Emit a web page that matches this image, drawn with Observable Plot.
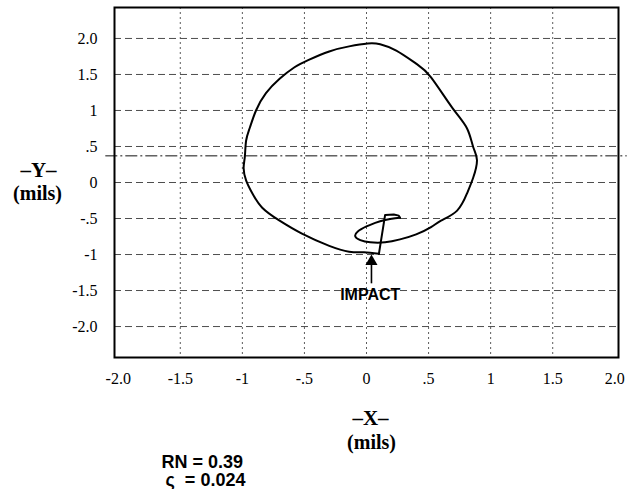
<!DOCTYPE html>
<html>
<head>
<meta charset="utf-8">
<script src="https://cdn.jsdelivr.net/npm/d3@7"></script>
<script src="https://cdn.jsdelivr.net/npm/@observablehq/plot@0.6"></script>
<style>
  html, body { margin: 0; padding: 0; background: white; }
  svg text { white-space: pre; }
  g[aria-label$="tick label"], g[aria-label$="tick label"] text { font-family: "Liberation Serif", "Times New Roman", serif !important; font-size: 16px; font-variant: normal !important; }
</style>
</head>
<body>
<div id="chart"></div>
<script>
// Tick values and labels
const tickValues = [-2, -1.5, -1, -0.5, 0, 0.5, 1, 1.5, 2];
const tickLabels = ["-2.0", "-1.5", "-1", "-.5", "0", ".5", "1", "1.5", "2.0"];
const xGridValues = [-1.5, -1, -0.5, 0, 0.5, 1, 1.5];
const yGridValues = [-2, -1.5, -1, -0.5, 0, 0.5, 1, 1.5, 2];

// Orbit trace (mils): smooth part, from the impact point round the big loop and the small loop
const orbitX = [0.10, -0.02, -0.14, -0.30, -0.52, -0.70, -0.84, -0.92, -0.97, -0.99, -0.98, -0.97, -0.94, -0.89, -0.81, -0.70, -0.58, -0.47, -0.30, -0.14, 0.01, 0.11, 0.24, 0.40, 0.52, 0.69, 0.81, 0.86, 0.89, 0.86, 0.81, 0.73, 0.60, 0.52, 0.40, 0.27, 0.15, 0.03, -0.05, -0.09, -0.07, 0.00, 0.07, 0.15, 0.23, 0.27];
const orbitY = [-0.99, -0.97, -0.96, -0.88, -0.71, -0.53, -0.35, -0.15, 0.03, 0.20, 0.36, 0.58, 0.76, 1.00, 1.24, 1.44, 1.60, 1.70, 1.82, 1.89, 1.93, 1.92, 1.83, 1.65, 1.46, 1.04, 0.75, 0.49, 0.31, 0.07, -0.15, -0.39, -0.53, -0.62, -0.72, -0.79, -0.83, -0.83, -0.80, -0.75, -0.68, -0.61, -0.56, -0.52, -0.495, -0.49];
// Hook and straight drop back to the impact point
const dropX = [0.27, 0.26, 0.22, 0.15, 0.10];
const dropY = [-0.49, -0.46, -0.445, -0.45, -0.99];

// Reference (dash-dot) centre line
const refLineY = [0.37];
const refLineExtent = [-2.1, 2.1];

// Impact annotation
const impactLabel = ["IMPACT"];
const impactArrow = [{x: 0.04, yFrom: -1.40, yTo: -1.04}];
const impactText = [{x: 0.03, y: -1.56}];

// Notes
const noteLines = ["RN = 0.39", "ς  = 0.024"];

const orbit = orbitX.map((x, i) => ({x, y: orbitY[i]}));
const drop = dropX.map((x, i) => ({x, y: dropY[i]}));
const fmt = d => tickLabels[tickValues.indexOf(d)];
const serif = "Liberation Serif, Times New Roman, serif";
const sans = "Liberation Sans, Arial, sans-serif";

const chart = Plot.plot({
  width: 629,
  height: 489,
  marginTop: 7,
  marginRight: 11,
  marginBottom: 132,
  marginLeft: 114,
  style: {fontFamily: serif, fontSize: "16px", background: "white", color: "black", overflow: "visible"},
  x: {domain: [-2.03, 2.03]},
  y: {domain: [-2.43, 2.43]},
  marks: [
    Plot.ruleY(yGridValues, {stroke: "#3a3a3a", strokeWidth: 0.9, strokeDasharray: "7,4"}),
    Plot.ruleX(xGridValues, {stroke: "#4a4a4a", strokeWidth: 0.9, strokeDasharray: "2,3"}),
    Plot.ruleY(refLineY, {x1: refLineExtent[0], x2: refLineExtent[1], stroke: "#111", strokeWidth: 1, strokeDasharray: "12,3,2,3"}),
    Plot.frame({stroke: "black", strokeWidth: 2}),
    Plot.axisX({ticks: tickValues, tickFormat: fmt, tickSize: 0, tickPadding: 15, label: null, fontFamily: serif, fontSize: 16}),
    Plot.axisY({ticks: tickValues, tickFormat: fmt, tickSize: 0, tickPadding: 17, label: null, fontFamily: serif, fontSize: 16}),
    Plot.line(orbit, {x: "x", y: "y", curve: "natural", stroke: "black", strokeWidth: 2}),
    Plot.line(drop, {x: "x", y: "y", curve: "linear", stroke: "black", strokeWidth: 2, strokeLinejoin: "round"}),
    Plot.link(impactArrow, {x1: "x", x2: "x", y1: "yFrom", y2: "yTo", stroke: "black", strokeWidth: 1.6}),
    Plot.dot(impactArrow, {x: "x", y: "yTo", symbol: "triangle", r: 4.5, fill: "black", dy: 4}),
    Plot.text(impactText, {x: "x", y: "y", text: () => impactLabel[0], fontFamily: sans, fontWeight: "bold", fontSize: 16}),
    // axis titles
    Plot.text(["–X–"], {frameAnchor: "bottom", dx: 4, dy: 61, lineAnchor: "middle", fontFamily: serif, fontWeight: "bold", fontSize: 21}),
    Plot.text(["(mils)"], {frameAnchor: "bottom", dx: 5, dy: 85, lineAnchor: "middle", fontFamily: serif, fontWeight: "bold", fontSize: 20}),
    Plot.text(["–Y–"], {frameAnchor: "left", dx: -76, dy: -12, textAnchor: "middle", lineAnchor: "middle", fontFamily: serif, fontWeight: "bold", fontSize: 21}),
    Plot.text(["(mils)"], {frameAnchor: "left", dx: -77, dy: 11, textAnchor: "middle", lineAnchor: "middle", fontFamily: serif, fontWeight: "bold", fontSize: 20}),
    // notes
    Plot.text([noteLines[0]], {frameAnchor: "bottom-left", dx: 47, dy: 105, textAnchor: "start", lineAnchor: "middle", fontFamily: sans, fontWeight: "bold", fontSize: 18}),
    Plot.text([noteLines[1]], {frameAnchor: "bottom-left", dx: 51, dy: 123, textAnchor: "start", lineAnchor: "middle", fontFamily: sans, fontWeight: "bold", fontSize: 18})
  ]
});
document.getElementById("chart").appendChild(chart);
</script>
</body>
</html>
